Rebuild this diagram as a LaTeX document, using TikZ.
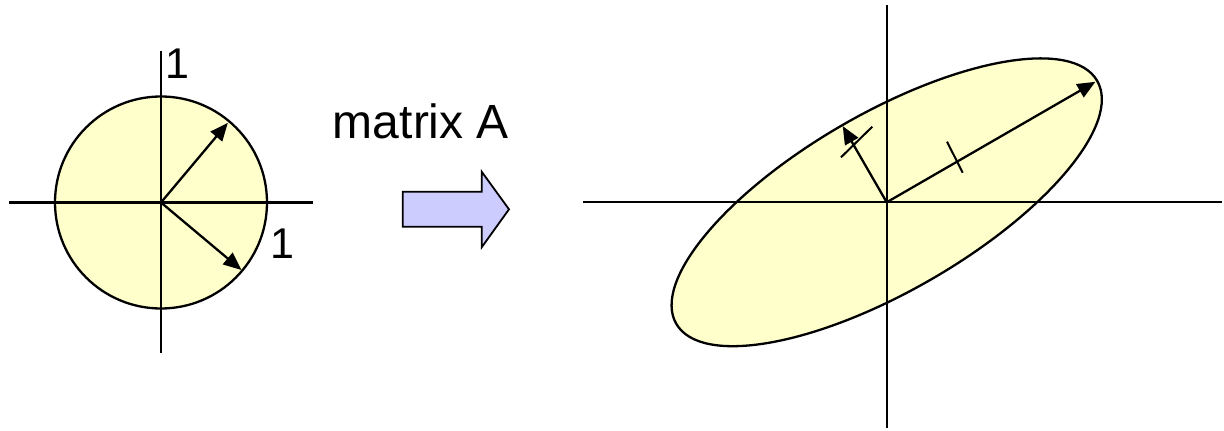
\documentclass[tikz,border=0pt]{standalone}
\usepackage{fontspec}
\setmainfont{Liberation Sans}
\usetikzlibrary{arrows.meta,calc}
\definecolor{paleyellow}{RGB}{255,255,204}
\definecolor{paleblue}{RGB}{204,204,255}
\begin{document}
\begin{tikzpicture}[x=1pt,y=1pt,
  axis/.style={line width=2.3pt},
  shapeline/.style={line width=2.3pt, fill=paleyellow},
  vec/.style={line width=2.3pt, -{Triangle[length=18pt,width=15pt]}},
  tick/.style={line width=2pt},
  lbl/.style={font=\fontsize{43}{50}\selectfont, inner sep=0pt}]
\useasboundingbox (0,0) rectangle (1224,431);
% ---- unit circle ----
\coordinate (C) at (161,228.5);
\draw[shapeline] (C) circle[radius=106pt];
\coordinate (hl) at (9,228.5);
\coordinate (hr) at (313,228.5);
\coordinate (vt) at (161,380);
\coordinate (vb) at (161,78);
\draw[axis] (hl) -- (hr);
\draw[axis] (vb) -- (vt);
\coordinate (u1) at ($(C)+(50:104)$);
\coordinate (u2) at ($(C)+(-40:105)$);
\draw[vec] (C) -- (u1);
\draw[vec] (C) -- (u2);
\node[lbl, anchor=base] (one1) at (177,352.7) {1};
\node[lbl, anchor=base] (one2) at (282,172.7) {1};
% ---- label and block arrow ----
\node[font=\fontsize{48}{56}\selectfont, inner sep=0pt, anchor=base] (mat) at (421,292.7) {matrix A};
\draw[line width=1.8pt, fill=paleblue, line join=miter]
  (402.7,239.3) -- (481.7,239.3) -- (481.7,259.3) -- (509,221.7)
  -- (481.7,183.7) -- (481.7,204.3) -- (402.7,204.3) -- cycle;
% ---- ellipse ----
\coordinate (O) at (886.7,228.7);
\draw[shapeline, rotate around={30:(O)}] (O) ellipse[x radius=243pt, y radius=89pt];
\coordinate (Hl) at (583,228.7);
\coordinate (Hr) at (1222,228.7);
\coordinate (Vt) at (886.7,426);
\coordinate (Vb) at (886.7,3);
\draw[axis] (Hl) -- (Hr);
\draw[axis] (Vb) -- (Vt);
\coordinate (w1) at ($(O)+(30:241)$);
\coordinate (w2) at ($(O)+(120:88)$);
\draw[vec] (O) -- (w1);
\draw[vec] (O) -- (w2);
\coordinate (t1a) at (947,289.3);
\coordinate (t1b) at (962.7,258.3);
\coordinate (t2a) at (841,273.7);
\coordinate (t2b) at (872.3,304.3);
\draw[tick] (t1a) -- (t1b);
\draw[tick] (t2a) -- (t2b);
\end{tikzpicture}
\end{document}
